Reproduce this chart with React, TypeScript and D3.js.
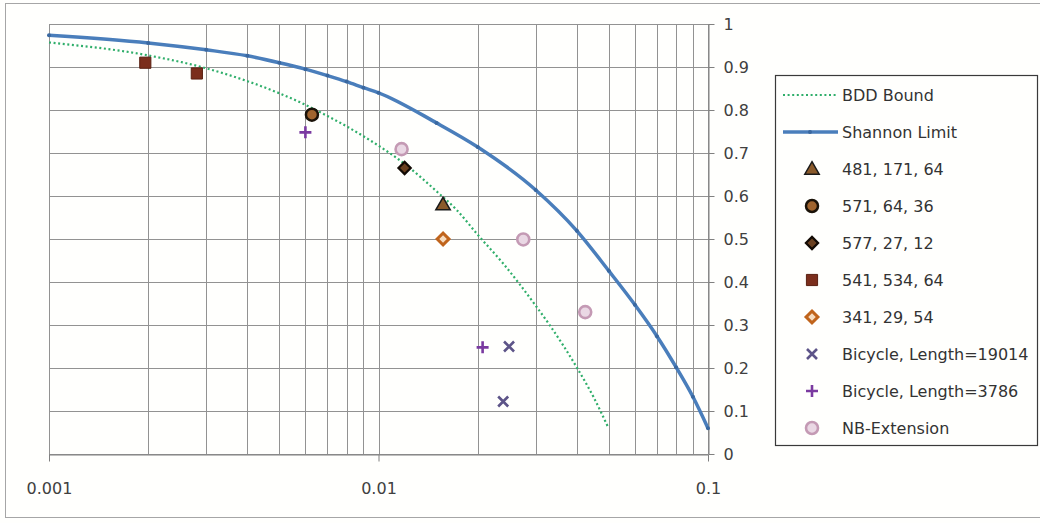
import { useEffect, useRef } from 'react';
import * as d3 from 'd3';

// crossover probability (x) vs rate (y)
const shannonP = [0.001, 0.002, 0.003, 0.004, 0.005, 0.006, 0.007, 0.008, 0.009, 0.01, 0.015, 0.02, 0.03, 0.04, 0.05, 0.06, 0.07, 0.08, 0.09, 0.1];
const shannonRate = [0.974, 0.956, 0.94, 0.926, 0.91, 0.895, 0.88, 0.866, 0.852, 0.84, 0.77, 0.714, 0.614, 0.519, 0.426, 0.347, 0.274, 0.202, 0.133, 0.06];

const bddP = [0.001, 0.002, 0.003, 0.004, 0.005, 0.006, 0.007, 0.008, 0.009, 0.01, 0.0119, 0.015, 0.0173, 0.02, 0.0239, 0.03, 0.0332, 0.04, 0.0449, 0.0497];
const bddRate = [0.957, 0.927, 0.897, 0.867, 0.839, 0.812, 0.786, 0.762, 0.739, 0.717, 0.677, 0.611, 0.567, 0.51, 0.443, 0.345, 0.298, 0.201, 0.133, 0.063];

const code481P = [0.0157];
const code481Rate = [0.58];
const code571P = [0.00628];
const code571Rate = [0.789];
const code577P = [0.012];
const code577Rate = [0.665];
const code541P = [0.00196, 0.00281];
const code541Rate = [0.91, 0.885];
const code341P = [0.0157];
const code341Rate = [0.5];
const bike19014P = [0.0249, 0.0239];
const bike19014Rate = [0.25, 0.122];
const bike3786P = [0.006, 0.0207];
const bike3786Rate = [0.748, 0.248];
const nbP = [0.01175, 0.0275, 0.0424];
const nbRate = [0.709, 0.499, 0.33];

const xTickValues = [0.001, 0.01, 0.1];
const xTickLabels = ['0.001', '0.01', '0.1'];
const yTickValues = [0, 0.1, 0.2, 0.3, 0.4, 0.5, 0.6, 0.7, 0.8, 0.9, 1];
const yTickLabels = ['0', '0.1', '0.2', '0.3', '0.4', '0.5', '0.6', '0.7', '0.8', '0.9', '1'];

const legendNames = [
  'BDD Bound',
  'Shannon Limit',
  '481, 171, 64',
  '571, 64, 36',
  '577, 27, 12',
  '541, 534, 64',
  '341, 29, 54',
  'Bicycle, Length=19014',
  'Bicycle, Length=3786',
  'NB-Extension',
];

type Kind = 'triangle' | 'circle' | 'diamond' | 'square' | 'odiamond' | 'x' | 'plus' | 'nb';

export default function App() {
  const svgRef = useRef<SVGSVGElement>(null);

  useEffect(() => {
    if (!svgRef.current) return;
    const width = 1040;
    const height = 523;
    const font = '"DejaVu Sans", Verdana, sans-serif';

    d3.select(svgRef.current).selectAll('*').remove();
    const svg = d3.select(svgRef.current).attr('width', width).attr('height', height);

    svg.append('rect').attr('width', width).attr('height', height).attr('fill', '#fffffd');
    // outer chart border
    svg
      .append('rect')
      .attr('x', 5.5)
      .attr('y', 3.5)
      .attr('width', 1040)
      .attr('height', 514)
      .attr('fill', 'none')
      .attr('stroke', '#a6a6a6');

    const x = d3.scaleLog().domain([0.001, 0.1]).range([49, 708]);
    const y = d3.scaleLinear().domain([0, 1]).range([454, 24]);

    // gridlines
    const grid = svg.append('g').attr('stroke', '#929292').attr('stroke-width', 1);
    grid
      .selectAll('line.v')
      .data(x.ticks())
      .enter()
      .append('line')
      .attr('x1', (d) => Math.round(x(d)) + 0.5)
      .attr('x2', (d) => Math.round(x(d)) + 0.5)
      .attr('y1', y(1))
      .attr('y2', y(0));
    grid
      .selectAll('line.h')
      .data(yTickValues)
      .enter()
      .append('line')
      .attr('x1', x(0.001))
      .attr('x2', x(0.1))
      .attr('y1', (d) => Math.round(y(d)) + 0.5)
      .attr('y2', (d) => Math.round(y(d)) + 0.5);

    // axes
    const xAxis = svg
      .append('g')
      .attr('transform', `translate(0, ${Math.round(y(0)) + 0.5})`)
      .call(
        d3
          .axisBottom(x)
          .tickValues(xTickValues)
          .tickFormat((_, i) => xTickLabels[i])
          .tickSize(7)
          .tickSizeOuter(0)
          .tickPadding(21)
      );
    const yAxis = svg
      .append('g')
      .attr('transform', `translate(${Math.round(x(0.1)) + 0.5}, 0)`)
      .call(
        d3
          .axisRight(y)
          .tickValues(yTickValues)
          .tickFormat((_, i) => yTickLabels[i])
          .tickSize(6)
          .tickSizeOuter(0)
          .tickPadding(9)
      );
    [xAxis, yAxis].forEach((g) => {
      g.selectAll('path, line').attr('stroke', '#808080');
      g.selectAll('text').attr('fill', '#404040').attr('font-size', 16).attr('font-family', font);
    });

    const line = d3
      .line<[number, number]>()
      .x((d) => x(d[0]))
      .y((d) => y(d[1]))
      .curve(d3.curveMonotoneX);

    // BDD bound
    svg
      .append('path')
      .datum(bddP.map((p, i) => [p, bddRate[i]] as [number, number]))
      .attr('d', line)
      .attr('fill', 'none')
      .attr('stroke', '#2fae6a')
      .attr('stroke-width', 2.2)
      .attr('stroke-dasharray', '2,2.6');

    // Shannon limit
    const shannon = shannonP.map((p, i) => [p, shannonRate[i]] as [number, number]);
    svg
      .append('path')
      .datum(shannon)
      .attr('d', line)
      .attr('fill', 'none')
      .attr('stroke', '#4a7ebb')
      .attr('stroke-width', 3.5);
    svg
      .selectAll('circle.sh')
      .data(shannon)
      .enter()
      .append('circle')
      .attr('cx', (d) => x(d[0]))
      .attr('cy', (d) => y(d[1]))
      .attr('r', 2)
      .attr('fill', '#3a68a0');

    const drawMarker = (g: d3.Selection<SVGGElement, unknown, null, undefined>, kind: Kind) => {
      if (kind === 'triangle') {
        g.append('path')
          .attr('d', d3.symbol().type(d3.symbolTriangle).size(90)())
          .attr('transform', 'translate(0,1)')
          .attr('fill', '#8a5a2b')
          .attr('stroke', '#1a1a1a')
          .attr('stroke-width', 1.5);
      } else if (kind === 'circle') {
        g.append('circle').attr('r', 6).attr('fill', '#a0642e').attr('stroke', '#1a1208').attr('stroke-width', 2.5);
      } else if (kind === 'diamond') {
        g.append('path')
          .attr('d', d3.symbol().type(d3.symbolSquare).size(75)())
          .attr('transform', 'rotate(45)')
          .attr('fill', '#6a4020')
          .attr('stroke', '#120a04')
          .attr('stroke-width', 2.2);
      } else if (kind === 'square') {
        g.append('path')
          .attr('d', d3.symbol().type(d3.symbolSquare).size(125)())
          .attr('fill', '#7b2e1c')
          .attr('stroke', '#5a2012')
          .attr('stroke-width', 1);
      } else if (kind === 'odiamond') {
        g.append('path')
          .attr('d', d3.symbol().type(d3.symbolSquare).size(70)())
          .attr('transform', 'rotate(45)')
          .attr('fill', '#f6dcc0')
          .attr('stroke', '#c0641c')
          .attr('stroke-width', 3);
      } else if (kind === 'x') {
        g.append('path')
          .attr('d', 'M-5,-5L5,5M-5,5L5,-5')
          .attr('stroke', '#5d5488')
          .attr('stroke-width', 2.6);
      } else if (kind === 'plus') {
        g.append('path')
          .attr('d', 'M-6,0L6,0M0,-6L0,6')
          .attr('stroke', '#7a3aa0')
          .attr('stroke-width', 2.6);
      } else {
        g.append('circle').attr('r', 6).attr('fill', '#ead8e4').attr('stroke', '#c49ab4').attr('stroke-width', 2.6);
      }
    };

    const markerSeries: { p: number[]; r: number[]; kind: Kind }[] = [
      { p: code541P, r: code541Rate, kind: 'square' },
      { p: nbP, r: nbRate, kind: 'nb' },
      { p: code571P, r: code571Rate, kind: 'circle' },
      { p: code577P, r: code577Rate, kind: 'diamond' },
      { p: code481P, r: code481Rate, kind: 'triangle' },
      { p: code341P, r: code341Rate, kind: 'odiamond' },
      { p: bike19014P, r: bike19014Rate, kind: 'x' },
      { p: bike3786P, r: bike3786Rate, kind: 'plus' },
    ];
    markerSeries.forEach((s) => {
      s.p.forEach((p, i) => {
        const g = svg.append('g').attr('transform', `translate(${x(p)}, ${y(s.r[i])})`);
        drawMarker(g, s.kind);
      });
    });

    // legend
    const legend = svg.append('g');
    legend
      .append('rect')
      .attr('x', 775.5)
      .attr('y', 75.5)
      .attr('width', 262)
      .attr('height', 370)
      .attr('fill', '#fffffd')
      .attr('stroke', '#3a3a3a')
      .attr('stroke-width', 1.2);

    const legendKinds: (Kind | 'bdd' | 'shannon')[] = ['bdd', 'shannon', 'triangle', 'circle', 'diamond', 'square', 'odiamond', 'x', 'plus', 'nb'];
    const rowY = d3.scaleLinear().domain([0, legendNames.length - 1]).range([95, 428]);

    legendNames.forEach((name, i) => {
      const cy = rowY(i);
      const kind = legendKinds[i];
      if (kind === 'bdd') {
        legend
          .append('line')
          .attr('x1', 783)
          .attr('x2', 838)
          .attr('y1', cy)
          .attr('y2', cy)
          .attr('stroke', '#2fae6a')
          .attr('stroke-width', 2)
          .attr('stroke-dasharray', '2,2.6');
      } else if (kind === 'shannon') {
        legend
          .append('line')
          .attr('x1', 783)
          .attr('x2', 838)
          .attr('y1', cy)
          .attr('y2', cy)
          .attr('stroke', '#4a7ebb')
          .attr('stroke-width', 3.5);
        legend.append('circle').attr('cx', 810).attr('cy', cy).attr('r', 2).attr('fill', '#3a68a0');
      } else {
        const g = legend.append('g').attr('transform', `translate(812, ${cy})`);
        drawMarker(g, kind);
      }
      legend
        .append('text')
        .attr('x', 842)
        .attr('y', cy)
        .attr('dy', '0.36em')
        .attr('fill', '#333')
        .attr('font-size', 16)
        .attr('font-family', font)
        .text(name);
    });
  }, []);

  return <svg ref={svgRef} style={{ position: 'absolute', left: 0, top: 0, display: 'block' }} />;
}
